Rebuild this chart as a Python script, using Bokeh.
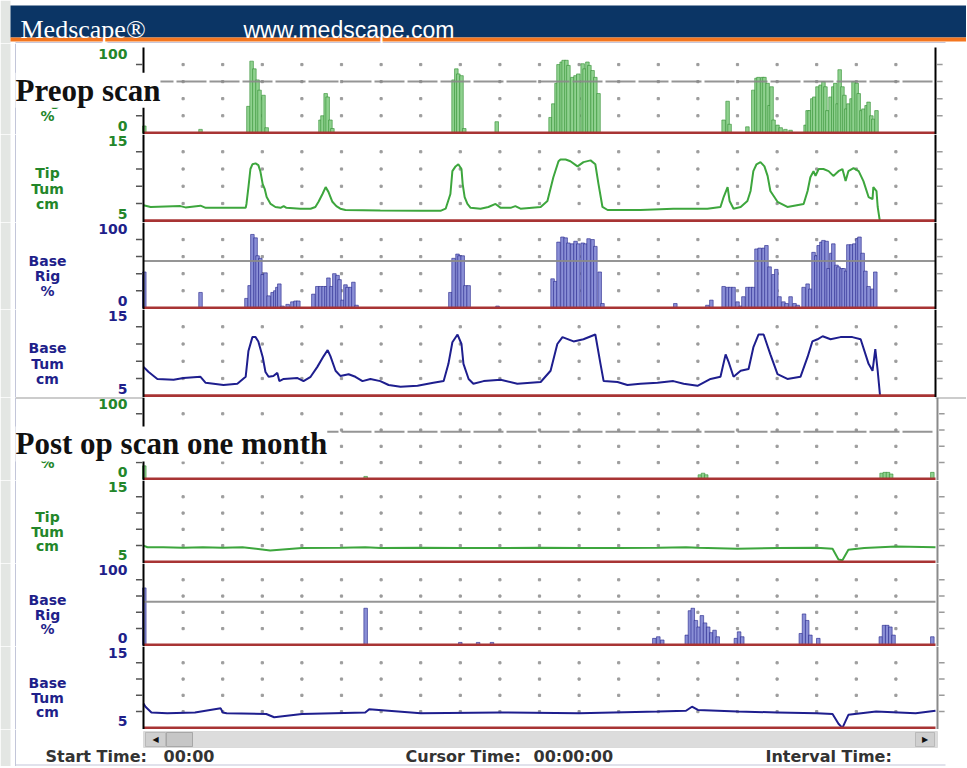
from bokeh.plotting import figure
from bokeh.layouts import column
from bokeh.models import Range1d, Label, Span, BoxAnnotation
from bokeh.embed import file_html
from bokeh.resources import INLINE

# ---------------- data ----------------
X_START, X_END = 0, 200
GRID_X = list(range(10, 200, 10))
RIG_TICKS = [20, 40, 60, 80]
CM_TICKS = [7, 9, 11, 13]
RIG_RANGE = (-2, 100)
CM_RANGE = (4.8, 15)
RIG_TICK_LABELS = ["100", "0"]
CM_TICK_LABELS = ["15", "5"]

pre_tip_rig_x = [0.2, 14.4, 26.5, 27.3, 28.0, 28.8, 29.3, 30.3, 31.1, 44.7, 45.2, 46.0, 46.5, 47.2, 47.7,
                 78.3, 79.0, 79.5, 80.3, 81.0, 89.2, 102.8, 103.5, 104.3, 104.8, 105.6, 106.1, 106.8, 107.3,
                 108.3, 109.1, 109.8, 110.9, 111.4, 112.1, 112.6, 113.4, 114.1, 114.9, 146.5, 147.5, 148.0,
                 152.5, 154.0, 154.8, 155.3, 156.3, 156.8, 157.6, 158.1, 158.6, 159.1, 160.1, 160.9, 162.1,
                 163.4, 167.2, 167.7, 168.2, 168.9, 169.4, 170.2, 171.0, 171.7, 172.2, 172.7, 173.5, 174.2,
                 174.7, 175.3, 175.8, 176.5, 177.0, 177.5, 178.0, 178.8, 179.3, 180.1, 180.6, 181.3, 181.8,
                 182.6, 183.1, 183.8, 184.3, 185.1]
pre_tip_rig_v = [8, 4, 31, 84, 75, 62, 50, 44, 6, 15, 20, 46, 42, 15, 5,
                 62, 75, 69, 67, 5, 13, 18, 34, 58, 80, 83, 85, 85, 79,
                 65, 67, 69, 81, 75, 83, 79, 73, 65, 46, 15, 37, 10,
                 7, 50, 64, 65, 65, 65, 58, 32, 54, 15, 9, 6, 4,
                 3, 9, 26, 26, 40, 42, 54, 56, 60, 54, 26, 42, 54,
                 58, 34, 74, 54, 44, 28, 34, 40, 60, 58, 46, 26, 28,
                 32, 36, 20, 16, 26]

pre_tip_tum_x = [0, 1.8, 9.3, 10.6, 14.4, 15.7, 25.8, 26.0, 26.5, 27.0, 27.5, 28.3, 29.0, 29.5, 30.1, 30.6,
                 31.1, 32.1, 33.3, 34.6, 35.4, 36.1, 39.6, 42.2, 43.4, 44.2, 45.2, 46.0, 46.7, 47.7, 48.7,
                 49.7, 51.0, 59.8, 70.0, 75.0, 76.3, 77.5, 78.0, 78.8, 79.5, 80.3, 80.6, 81.1, 81.8, 82.6,
                 85.1, 87.1, 88.9, 90.2, 92.7, 93.9, 95.2, 100.3, 102.0, 103.5, 104.8, 105.3, 106.6, 107.8,
                 109.6, 111.1, 112.9, 114.1, 114.9, 115.9, 117.2, 125.5, 133.8, 142.4, 145.7, 146.5, 147.5,
                 148.0, 149.0, 150.8, 152.5, 153.3, 154.0, 154.8, 155.8, 156.8, 157.6, 158.3, 160.1, 162.6,
                 166.7, 167.7, 168.4, 169.2, 169.7, 170.5, 171.7, 173.0, 174.2, 175.5, 176.5, 177.3, 178.0,
                 179.3, 180.6, 181.8, 183.1, 184.1, 184.3, 185.1, 185.4, 186.1]
pre_tip_tum_v = [6.8, 6.6, 6.7, 6.55, 6.75, 6.5, 6.5, 6.95, 8.9, 11.0, 11.55, 11.65, 11.45, 10.75, 9.25, 8.7,
                 7.75, 6.95, 6.6, 6.5, 6.7, 6.5, 6.4, 6.4, 6.6, 7.2, 8.1, 8.9, 8.35, 7.2, 6.7,
                 6.4, 6.25, 6.2, 6.15, 6.15, 6.4, 8.1, 10.75, 11.3, 11.55, 11.0, 9.25, 7.75, 6.95, 6.5,
                 6.4, 6.6, 6.95, 6.5, 6.5, 6.7, 6.4, 6.6, 7.3, 10.05, 11.9, 12.1, 12.1, 11.9,
                 11.3, 11.8, 12.0, 11.55, 9.25, 6.6, 6.25, 6.25, 6.4, 6.4, 6.6, 7.75, 8.9,
                 7.3, 6.4, 6.6, 7.3, 8.45, 10.75, 11.55, 11.8, 11.3, 10.2, 8.45, 7.2, 6.6,
                 6.95, 8.45, 10.05, 10.75, 10.2, 11.0, 11.0, 10.75, 10.2, 10.75, 11.0, 9.6, 10.75,
                 11.1, 10.75, 9.6, 7.75, 7.5, 8.9, 8.45, 6.6, 4.5]

pre_base_rig_x = [0.2, 14.4, 26.0, 26.8, 27.5, 28.3, 28.8, 29.5, 30.1, 30.8, 31.6, 32.6, 33.3, 33.8, 34.3,
                  35.1, 36.4, 37.6, 38.4, 39.1, 42.9, 43.9, 44.7, 45.5, 46.2, 46.7, 47.5, 48.2, 49.0, 49.5,
                  50.3, 51.0, 51.5, 52.3, 53.0, 53.8, 77.5, 78.3, 79.3, 79.8, 80.6, 81.3, 82.1, 89.4, 103.3,
                  104.0, 104.8, 105.8, 106.6, 107.3, 108.3, 109.1, 109.8, 110.9, 111.6, 112.4, 113.4, 114.1,
                  115.2, 115.9, 134.3, 142.4, 143.4, 146.5, 147.5, 148.2, 149.0, 150.0, 150.8, 151.5, 152.5,
                  153.3, 154.0, 154.8, 155.6, 156.6, 157.3, 158.1, 159.1, 159.8, 160.6, 161.6, 162.4, 163.4,
                  164.4, 165.2, 166.7, 167.7, 168.4, 169.2, 169.9, 170.5, 171.2, 171.7, 172.5, 173.0, 173.7,
                  174.2, 175.0, 175.5, 176.3, 176.8, 177.5, 178.0, 178.8, 179.5, 180.3, 180.8, 181.6, 182.3,
                  183.1, 184.1, 184.8]
pre_base_rig_v = [42, 18, 11, 26, 86, 82, 61, 58, 39, 41, 14, 18, 20, 24, 28,
                  2, 4, 7, 8, 8, 16, 25, 25, 25, 25, 35, 25, 40, 38, 33,
                  9, 27, 24, 24, 30, 3, 18, 58, 63, 61, 61, 26, 26, 2, 34,
                  31, 77, 83, 82, 76, 75, 78, 75, 76, 75, 81, 80, 72,
                  42, 5, 5, 3, 9, 25, 24, 24, 24, 7, 2, 13, 24,
                  24, 24, 69, 70, 70, 73, 48, 39, 45, 13, 7, 5, 13,
                  5, 3, 24, 28, 22, 65, 61, 73, 77, 79, 78, 46, 64,
                  75, 50, 48, 46, 46, 43, 74, 74, 75, 81, 83, 64, 43,
                  25, 22, 42]

pre_base_tum_x = [0, 1.3, 3.5, 7.6, 10.1, 14.4, 15.7, 20.2, 23.7, 25.8, 26.5, 27.5, 28.3, 29.0, 30.1, 30.8,
                  31.6, 32.8, 33.8, 34.3, 35.4, 38.9, 40.4, 42.2, 43.9, 45.5, 46.5, 47.2, 48.5, 49.7, 51.8,
                  53.5, 55.3, 57.3, 59.8, 61.9, 64.9, 69.2, 73.2, 75.8, 77.0, 78.0, 79.3, 80.3, 80.8, 82.1,
                  83.3, 85.9, 90.2, 94.4, 100.3, 102.8, 104.5, 105.8, 108.6, 111.1, 114.1, 115.4, 116.2,
                  119.7, 122.2, 125.5, 129.8, 133.8, 136.4, 139.9, 143.2, 145.7, 147.0, 147.7, 149.0, 150.8,
                  152.8, 154.0, 155.3, 156.6, 158.3, 160.1, 162.6, 165.9, 167.7, 168.9, 170.2, 171.5, 173.5,
                  176.0, 179.0, 181.1, 183.1, 184.1, 184.8, 185.4, 186.1]
pre_base_tum_v = [8.35, 7.75, 6.95, 6.85, 7.05, 7.2, 6.5, 6.25, 6.4, 7.2, 10.2, 11.8, 11.8, 11.3, 9.5, 7.75,
                  7.2, 7.3, 7.65, 6.7, 6.95, 7.05, 6.7, 7.2, 8.35, 9.6, 10.3, 9.6, 7.9, 7.3, 7.5,
                  7.2, 6.7, 6.95, 6.7, 6.25, 6.05, 6.15, 6.5, 6.7, 8.7, 11.2, 12.1, 11.0, 8.7, 6.95,
                  6.4, 6.7, 6.85, 6.4, 6.6, 7.9, 11.0, 11.8, 11.3, 11.55, 12.1, 8.7, 6.7,
                  6.6, 6.25, 6.4, 6.5, 6.7, 6.4, 6.15, 6.95, 7.2, 9.8, 9.0, 7.2, 7.9,
                  8.1, 10.6, 12.1, 12.1, 9.8, 7.5, 6.95, 7.2, 9.5, 11.3, 11.55, 11.9, 11.55,
                  11.8, 11.8, 11.55, 8.7, 7.9, 10.4, 7.9, 4.5]

post_tip_rig_x = [0.2, 56.1, 140.5, 141.3, 142.1, 186.4, 187.2, 188.0, 188.8, 199.2]
post_tip_rig_v = [16, 3, 5, 7, 5, 7, 8, 8, 6, 8]

post_tip_tum_x = [0, 1, 5, 10, 15, 20, 25, 32, 40, 50, 56, 60, 70, 80, 90, 100, 110, 120, 130, 137, 140,
                  150, 160, 170, 174, 175.5, 176.5, 178, 182, 190, 200]
post_tip_tum_v = [7.0, 6.8, 6.8, 6.75, 6.8, 6.75, 6.8, 6.4, 6.7, 6.75, 6.8, 6.7, 6.75, 6.7, 6.7, 6.75, 6.7,
                  6.7, 6.75, 6.8, 6.75, 6.6, 6.7, 6.75, 6.6, 5.3, 5.2, 6.5, 6.7, 6.9, 6.8]

post_base_rig_x = [0.2, 56.1, 80.0, 84.5, 88.0, 129.0, 130.0, 131.0, 137.2, 138.0, 138.7, 139.5, 140.2, 141.0,
                   141.8, 142.6, 143.4, 144.2, 145.0, 149.6, 150.4, 151.2, 166.0, 166.8, 167.6, 168.4, 170.4,
                   186.2, 187.0, 187.8, 188.6, 189.4, 199.2]
post_base_rig_v = [70, 45, 3, 3, 3, 8, 10, 6, 12, 42, 45, 30, 22, 36,
                   27, 22, 15, 18, 10, 8, 16, 10, 14, 38, 30, 12, 8,
                   10, 24, 24, 22, 12, 10]

post_base_tum_x = [0, 0.5, 2, 6, 13, 19.5, 20, 21, 31, 33, 40, 56, 57, 70, 90, 110, 130, 137, 138.5, 140, 150,
                   160, 170, 174, 175.5, 176.5, 178, 185, 195, 200]
post_base_tum_v = [8.0, 7.6, 6.9, 6.8, 6.9, 7.4, 6.9, 6.8, 6.7, 6.3, 6.7, 6.9, 7.3, 6.8, 6.9, 6.8, 7.0, 7.1,
                   7.6, 7.2, 7.0, 6.9, 6.8, 6.7, 5.5, 5.0, 6.6, 7.0, 6.8, 7.1]

# ---------------- layout / style ----------------
W = 966
PX_LEFT, PX_RIGHT = 143, 935              # page pixels of x = X_START / X_END
PX_PER_X = (PX_RIGHT - PX_LEFT) / (X_END - X_START)


def px2x(px):
    return X_START + (px - PX_LEFT) / PX_PER_X


XR = (px2x(0), px2x(W))
GREEN_TXT = "#23862a"
BLUE_TXT = "#1f1f8a"
STYLE = {
    "tip": dict(txt=GREEN_TXT, fill="#8fd18f", edge="#2f8d2f", line="#3da63d"),
    "base": dict(txt=BLUE_TXT, fill="#8a8fd6", edge="#23238a", line="#1e1e8e"),
}
LABEL_FRACS = [0.44, 0.62, 0.79]
STRIP = "#e3e6e3"
BOXLINE = "#c3c6d9"


def base_fig(height, xr, yr):
    f = figure(width=W, height=height, x_range=Range1d(*xr), y_range=Range1d(*yr),
               output_backend="svg", toolbar_location=None, x_axis_type=None, y_axis_type=None,
               min_border=0)
    f.outline_line_color = None
    f.background_fill_color = "white"
    f.border_fill_color = "white"
    return f


def panel(height, kind, which, xs, vs, lines, threshold=None, dash="solid", right_color="black",
          pad_top=0, top_rule=False):
    lo, hi = RIG_RANGE if kind == "rig" else CM_RANGE
    ticks = RIG_TICKS if kind == "rig" else CM_TICKS
    tlabels = RIG_TICK_LABELS if kind == "rig" else CM_TICK_LABELS
    base = 0 if kind == "rig" else 5
    st = STYLE[which]
    upp = (hi - lo) / (height - pad_top)          # data units per pixel
    top = hi + pad_top * upp
    p = base_fig(height, XR, (lo, top))
    # page furniture: grey strip on the far left and the light box edge
    p.add_layout(BoxAnnotation(right=px2x(10), fill_color=STRIP, fill_alpha=1, line_color=None))
    p.add_layout(Span(location=px2x(15), dimension="height", line_color=BOXLINE, line_width=1))
    if top_rule:
        p.segment(x0=[px2x(15), X_END], x1=[X_START, px2x(W)], y0=[hi, hi], y1=[hi, hi],
                  line_color="#9a9a9a", line_width=2)
    # dotted grid
    gx = [x for x in GRID_X for _ in ticks]
    gy = [y for _ in GRID_X for y in ticks]
    p.scatter(gx, gy, size=2.2, marker="square", color="#9c9c9c")
    # data
    if kind == "rig":
        p.vbar(x=xs, top=vs, bottom=0, width=0.9, fill_color=st["fill"], line_color=st["edge"],
               line_width=0.6)
    else:
        p.line(xs, vs, line_color=st["line"], line_width=2)
    if threshold is not None:
        p.segment(x0=[X_START], x1=[X_END], y0=[threshold], y1=[threshold], line_color="#8a8a8a",
                  line_width=2, line_dash=dash, line_alpha=0.9)
    p.segment(x0=[X_START], x1=[X_END], y0=[base], y1=[base], line_color="#a83434", line_width=2.8)
    # axes: left (black) and right
    n = len(ticks)
    p.segment(x0=[X_START], x1=[X_START], y0=[lo], y1=[hi], line_color="black", line_width=2)
    p.segment(x0=[X_START - 1.9] * n, x1=[X_START - 0.25] * n, y0=ticks, y1=ticks,
              line_color="#555555", line_width=1.5)
    rx = X_END if right_color == "black" else X_END + 0.5
    p.segment(x0=[rx], x1=[rx], y0=[lo], y1=[hi], line_color=right_color, line_width=2)
    p.segment(x0=[rx + 0.4] * n, x1=[rx + 1.8] * n, y0=ticks, y1=ticks,
              line_color="#9a9a9a", line_width=1.5)
    # end labels of the scale, kept inside the panel
    p.add_layout(Label(x=px2x(127), y=hi - 1.5 * upp, text=tlabels[0], text_align="right",
                       text_baseline="top", text_font="DejaVu Sans", text_font_style="bold",
                       text_font_size="14px", text_color=st["txt"]))
    p.add_layout(Label(x=px2x(127), y=base + 7 * upp, text=tlabels[1], text_align="right",
                       text_baseline="alphabetic", text_font="DejaVu Sans", text_font_style="bold",
                       text_font_size="14px", text_color=st["txt"]))
    for frac, t in zip(LABEL_FRACS, lines):
        p.add_layout(Label(x=px2x(47), y=hi - frac * (hi - lo), text=t,
                           text_align="center", text_baseline="middle", text_font="DejaVu Sans",
                           text_font_style="bold", text_font_size="14px", text_color=st["txt"]))
    return p


# header (coordinates in page pixels, y downward)
hdr = base_fig(43, (0, W), (43, 0))
hdr.add_layout(BoxAnnotation(right=10, fill_color=STRIP, fill_alpha=1, line_color=None))
hdr.add_layout(BoxAnnotation(left=10, top=5, bottom=37, fill_color="#0b3565", fill_alpha=1,
                             line_color=None))
hdr.add_layout(BoxAnnotation(left=10, top=37, bottom=41, fill_color="#f4761f", fill_alpha=1,
                             line_color=None))
hdr.add_layout(BoxAnnotation(left=15, right=945, top=42, bottom=43, fill_color="#8e8fb5",
                             fill_alpha=1, line_color=None))
hdr.add_layout(Label(x=20, y=29, text="Medscape®", text_font="Liberation Serif", text_font_size="26px",
                     text_color="white", text_baseline="alphabetic"))
hdr.add_layout(Label(x=243, y=29, text="www.medscape.com", text_font="Liberation Sans",
                     text_font_size="23px", text_color="white", text_baseline="alphabetic"))

p1 = panel(91, "rig", "tip", pre_tip_rig_x, pre_tip_rig_v, ["Tip", "Rig", "%"], 60, "30 3",
           pad_top=4)
p1.add_layout(Label(x=px2x(15), y=50, text="Preop scan", text_font="Liberation Serif",
                    text_font_style="bold", text_font_size="31px", text_color="#111111",
                    background_fill_color="white", text_baseline="alphabetic"))
p2 = panel(88, "cm", "tip", pre_tip_tum_x, pre_tip_tum_v, ["Tip", "Tum", "cm"])
p3 = panel(87, "rig", "base", pre_base_rig_x, pre_base_rig_v, ["Base", "Rig", "%"], 55)
p4 = panel(88, "cm", "base", pre_base_tum_x, pre_base_tum_v, ["Base", "Tum", "cm"])
p5 = panel(83, "rig", "tip", post_tip_rig_x, post_tip_rig_v, ["Tip", "Rig", "%"], 58, "30 3",
           right_color="#8a8a8a", top_rule=True)
p5.add_layout(Label(x=px2x(15), y=43, text="Post op scan one month",
                    text_font="Liberation Serif", text_font_style="bold", text_font_size="31px",
                    text_color="#111111", background_fill_color="white", text_baseline="alphabetic"))
p6 = panel(83, "cm", "tip", post_tip_tum_x, post_tip_tum_v, ["Tip", "Tum", "cm"],
           right_color="#8a8a8a")
p7 = panel(83, "rig", "base", post_base_rig_x, post_base_rig_v, ["Base", "Rig", "%"], 53,
           right_color="#8a8a8a")
p8 = panel(83, "cm", "base", post_base_tum_x, post_base_tum_v, ["Base", "Tum", "cm"],
           right_color="#8a8a8a")

# footer (page pixels, y downward)
ftr = base_fig(37, (0, W), (766, 729))
ftr.add_layout(BoxAnnotation(right=10, fill_color=STRIP, fill_alpha=1, line_color=None))
ftr.add_layout(Span(location=15, dimension="height", line_color=BOXLINE, line_width=1))
ftr.add_layout(BoxAnnotation(left=15, right=945, top=764, bottom=765, fill_color=BOXLINE,
                             fill_alpha=1, line_color=None))
ftr.add_layout(BoxAnnotation(left=143, right=937, top=731, bottom=747, fill_color="#dcdcdc",
                             fill_alpha=1, line_color="#b0b0b0"))
ftr.add_layout(BoxAnnotation(left=145, right=165, top=732, bottom=746, fill_color="#cfcfcf",
                             fill_alpha=1, line_color="#777777"))
ftr.add_layout(BoxAnnotation(left=166, right=192, top=732, bottom=746, fill_color="#c6c6c6",
                             fill_alpha=1, line_color="#444444"))
ftr.add_layout(BoxAnnotation(left=915, right=934, top=732, bottom=746, fill_color="#cfcfcf",
                             fill_alpha=1, line_color="#777777"))
ftr.add_layout(Label(x=155, y=739, text="◀", text_font="DejaVu Sans", text_font_size="8px",
                     text_align="center", text_baseline="middle", text_color="#111111"))
ftr.add_layout(Label(x=924.5, y=739, text="▶", text_font="DejaVu Sans", text_font_size="8px",
                     text_align="center", text_baseline="middle", text_color="#111111"))
for xx, t in [(45, "Start Time:"), (163, "00:00"), (405, "Cursor Time:"), (533, "00:00:00"),
              (765, "Interval Time:")]:
    ftr.add_layout(Label(x=xx, y=756, text=t, text_font="DejaVu Sans", text_font_style="bold",
                         text_font_size="16px", text_color="#333333", text_baseline="middle"))

layout = column(hdr, p1, p2, p3, p4, p5, p6, p7, p8, ftr, spacing=0)
open("out.html", "w").write(file_html(layout, INLINE))
